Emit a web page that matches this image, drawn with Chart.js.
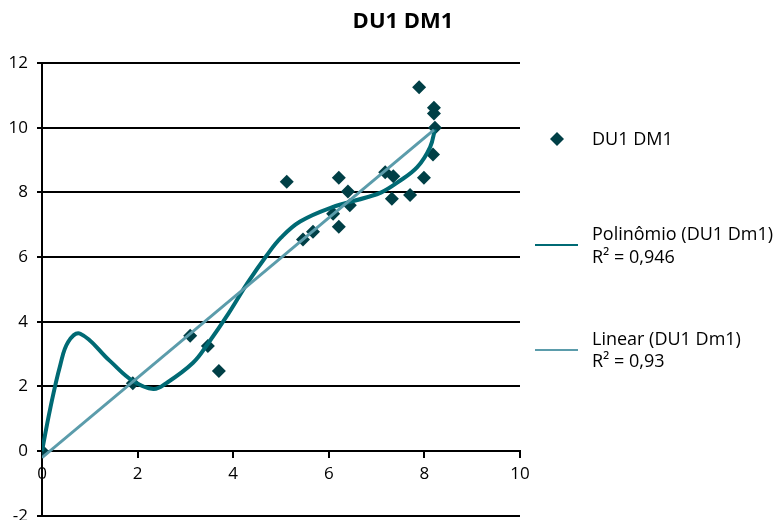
<!DOCTYPE html>
<html><head><meta charset="utf-8">
<script src="https://cdn.jsdelivr.net/npm/chart.js@4/dist/chart.umd.min.js"></script>
<style>html,body{margin:0;padding:0;background:#fff;width:780px;height:520px;overflow:hidden}canvas{display:block}</style>
</head><body>
<canvas id="c" width="780" height="535"></canvas>
<script>
const chartTitle = 'DU1 DM1';
const seriesLabel = 'DU1 DM1';
const scatterX = [0, 1.9, 3.1, 3.47, 3.7, 5.12, 5.46, 5.67, 6.09, 6.21, 6.21, 6.4, 6.44, 7.18, 7.35, 7.32, 7.7, 7.89, 7.99, 8.18, 8.22, 8.2, 8.2];
const scatterY = [0, 2.1, 3.57, 3.25, 2.48, 8.33, 6.54, 6.78, 7.34, 6.94, 8.45, 8.03, 7.6, 8.62, 8.5, 7.8, 7.92, 11.25, 8.45, 9.17, 10.0, 10.44, 10.62];
const polyX = [0, 0.17, 0.38, 0.55, 0.8, 1.42, 1.9, 2.33, 2.6, 3.16, 3.47, 3.9, 4.3, 4.7, 5.0, 5.4, 6.05, 6.8, 7.1, 7.43, 7.85, 8.12, 8.22];
const polyY = [0, 1.3, 2.65, 3.38, 3.63, 2.79, 2.17, 1.92, 2.1, 2.73, 3.32, 4.25, 5.2, 6.05, 6.6, 7.1, 7.53, 7.85, 8.0, 8.3, 8.78, 9.4, 9.95];
const linearX = [0, 8.2];
const linearY = [-0.2, 9.93];
const polyLegend = ['Polinômio (DU1 Dm1)', 'R² = 0,946'];
const linearLegend = ['Linear (DU1 Dm1)', 'R² = 0,93'];
const xTicks = [0, 2, 4, 6, 8, 10];
const yTicks = [-2, 0, 2, 4, 6, 8, 10, 12];

const FONT = '"Open Sans", Lato, sans-serif';
const C_MARK = '#003f46';
const C_POLY = '#006a74';
const C_LIN = '#5b9cab';

const pts = (xs, ys) => xs.map((x, i) => ({x, y: ys[i]}));

const titleLegendPlugin = {
  id: 'titleLegend',
  afterDraw(chart) {
    const ctx = chart.ctx;
    ctx.save();
    ctx.fillStyle = '#000';
    ctx.font = 'bold 22px ' + FONT;
    ctx.textAlign = 'center';
    ctx.textBaseline = 'alphabetic';
    ctx.fillText(chartTitle, 403, 28);
    ctx.textAlign = 'left';
    ctx.font = '18px ' + FONT;
    ctx.fillStyle = C_MARK;
    ctx.beginPath();
    ctx.moveTo(557, 132); ctx.lineTo(564, 139); ctx.lineTo(557, 146); ctx.lineTo(550, 139); ctx.closePath();
    ctx.fill();
    ctx.fillStyle = '#000';
    ctx.fillText(seriesLabel, 592, 145);
    ctx.lineWidth = 2;
    ctx.strokeStyle = C_POLY;
    ctx.beginPath(); ctx.moveTo(535, 245); ctx.lineTo(578, 245); ctx.stroke();
    ctx.fillText(polyLegend[0], 592, 240);
    ctx.fillText(polyLegend[1], 592, 263);
    ctx.strokeStyle = C_LIN;
    ctx.beginPath(); ctx.moveTo(535, 350); ctx.lineTo(578, 350); ctx.stroke();
    ctx.fillText(linearLegend[0], 592, 345);
    ctx.fillText(linearLegend[1], 592, 367);
    ctx.restore();
  }
};

new Chart(document.getElementById('c'), {
  type: 'scatter',
  data: {
    datasets: [
      {label: seriesLabel, data: pts(scatterX, scatterY), pointStyle: 'rectRot', pointRadius: 7, backgroundColor: C_MARK, borderColor: C_MARK, borderWidth: 0, order: 3},
      {label: polyLegend[0], data: pts(polyX, polyY), showLine: true, pointRadius: 0, borderColor: C_POLY, borderWidth: 4, tension: 0.4, order: 2},
      {label: linearLegend[0], data: pts(linearX, linearY), showLine: true, pointRadius: 0, borderColor: C_LIN, borderWidth: 3, order: 1}
    ]
  },
  options: {
    responsive: false,
    animation: false,
    devicePixelRatio: 1,
    layout: {padding: {left: 0, right: 260, top: 63, bottom: 5}},
    plugins: {legend: {display: false}, tooltip: {enabled: false}, title: {display: false}},
    scales: {
      x: {
        type: 'linear', min: 0, max: 10, position: {y: 0},
        afterBuildTicks(s) { s.ticks = xTicks.map(v => ({value: v})); },
        ticks: {color: '#000', font: {family: FONT, size: 17}, padding: 7},
        grid: {drawOnChartArea: false, drawTicks: true, tickLength: 6, color: '#000', lineWidth: 2},
        border: {display: true, color: '#000', width: 2}
      },
      y: {
        type: 'linear', min: -2, max: 12, position: 'left',
        afterBuildTicks(s) { s.ticks = yTicks.map(v => ({value: v})); },
        afterFit(s) { s.width = 42; },
        ticks: {color: '#000', font: {family: FONT, size: 17}, padding: 9},
        grid: {color: '#000', lineWidth: 2, tickLength: 5},
        border: {display: true, color: '#000', width: 2}
      }
    }
  },
  plugins: [titleLegendPlugin]
});
</script>
</body></html>
